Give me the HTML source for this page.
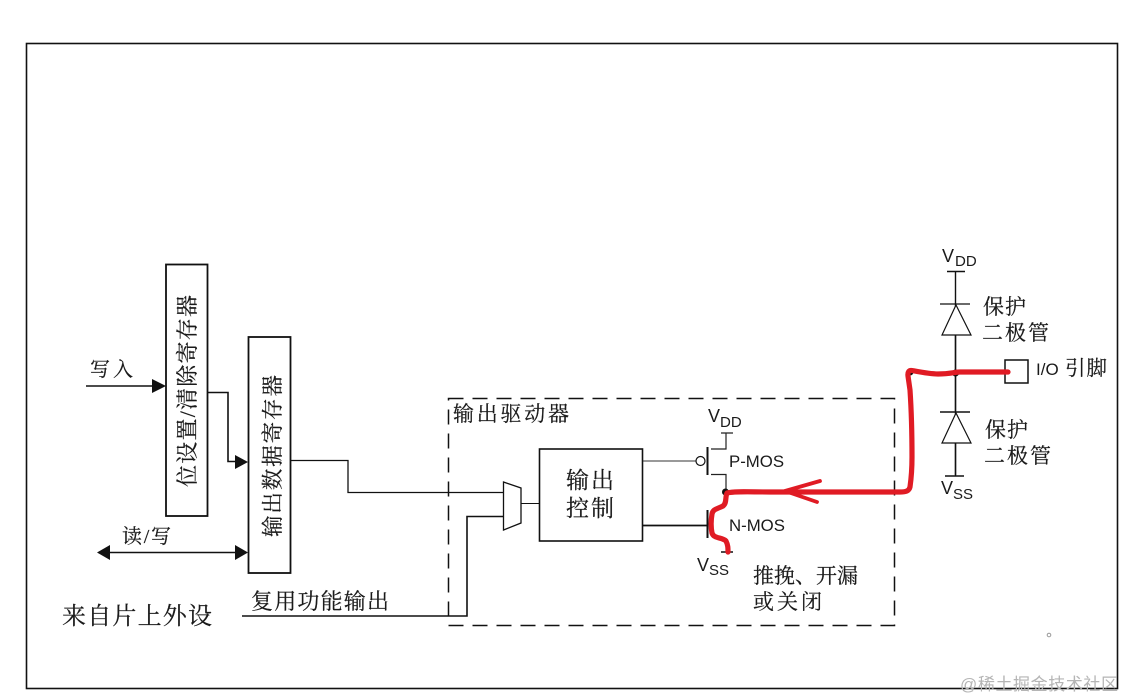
<!DOCTYPE html>
<html>
<head>
<meta charset="utf-8">
<style>
html,body{margin:0;padding:0;background:#fff;width:1126px;height:700px;overflow:hidden}
svg{display:block}
text{font-family:"Liberation Serif","Noto Serif CJK SC",serif;fill:#1a1a1a;stroke:#1a1a1a;stroke-width:.2}
.s{font-family:"Liberation Sans","Noto Sans CJK SC",sans-serif;stroke:none}
</style>
</head>
<body>
<svg width="1126" height="700" viewBox="0 0 1126 700" xmlns="http://www.w3.org/2000/svg">
<rect x="0" y="0" width="1126" height="700" fill="#fff"/>
<rect x="26.5" y="43.5" width="1091" height="645" fill="none" stroke="#111" stroke-width="1.6"/>

<!-- registers -->
<rect x="166" y="264.500" width="41.500" height="251.500" fill="none" stroke="#111" stroke-width="1.8"/>
<rect x="248.500" y="337" width="42" height="236" fill="none" stroke="#111" stroke-width="1.8"/>
<text transform="translate(195,487) rotate(-90)" font-size="22" textLength="192" lengthAdjust="spacing">位设置/清除寄存器</text>
<text transform="translate(280,537) rotate(-90)" font-size="21.500" textLength="162" lengthAdjust="spacing">输出数据寄存器</text>

<!-- left connectors -->
<path d="M86 386H155" stroke="#111" stroke-width="1.600" fill="none"/>
<polygon points="152,379 166,386 152,393" fill="#111"/>
<path d="M207 392.500H228V461.500H236" stroke="#111" stroke-width="1.600" fill="none"/>
<polygon points="235,455 248,462 235,469" fill="#111"/>
<path d="M105 552.500H240" stroke="#111" stroke-width="1.600" fill="none"/>
<polygon points="97,552.500 110,545 110,560" fill="#111"/>
<polygon points="235,545 248,552.500 235,560" fill="#111"/>
<text x="90" y="376" font-size="20" textLength="43">写入</text>
<text x="122" y="543" font-size="20" textLength="49">读/写</text>
<text x="62" y="624" font-size="24" textLength="150">来自片上外设</text>
<text x="251" y="609" font-size="22" textLength="138">复用功能输出</text>
<path d="M242 616H467V516.500H503" stroke="#111" stroke-width="1.600" fill="none"/>
<path d="M290 460.500H348V492.500H503" stroke="#111" stroke-width="1.300" fill="none"/>

<!-- driver dashed box -->
<rect x="448.500" y="398.500" width="446" height="227" fill="none" stroke="#111" stroke-width="1.500" stroke-dasharray="15 9"/>
<text x="453" y="421" font-size="21" textLength="116">输出驱动器</text>

<!-- mux + control -->
<polygon points="503.500,482 521,488 521,523 503.500,530" fill="#fff" stroke="#111" stroke-width="1.300"/>
<path d="M521 503.500H539.500" stroke="#111" stroke-width="1"/>
<rect x="539.500" y="449" width="103" height="92" fill="#fff" stroke="#111" stroke-width="1.600"/>
<text x="566" y="488" font-size="23" textLength="48">输出</text>
<text x="566" y="516" font-size="23" textLength="48">控制</text>
<path d="M643 461H696" stroke="#333" stroke-width="1"/>
<path d="M643 525.500H707" stroke="#111" stroke-width="1.700"/>

<!-- P-MOS -->
<circle cx="700.500" cy="461" r="4.500" fill="#fff" stroke="#111" stroke-width="1.200"/>
<path d="M707.500 447V475" stroke="#111" stroke-width="2"/>
<path d="M711 449H726V433M721 433H733M711 474.500H726V491" stroke="#222" stroke-width="1.200" fill="none"/>
<text class="s" x="708" y="422" font-size="18">V</text>
<text class="s" x="720" y="427" font-size="15">DD</text>
<text class="s" x="729" y="467" font-size="16.800">P-MOS</text>

<!-- N-MOS -->
<path d="M707.500 510V538" stroke="#111" stroke-width="2"/>
<path d="M721 552H733" stroke="#111" stroke-width="1.500"/>
<text class="s" x="697" y="571" font-size="18">V</text>
<text class="s" x="709" y="575" font-size="15">SS</text>
<text class="s" x="729" y="531" font-size="16.800">N-MOS</text>
<text x="753" y="583" font-size="21" textLength="105">推挽、开漏</text>
<text x="753" y="609" font-size="21" textLength="69">或关闭</text>

<!-- right column -->
<path d="M955.500 272V476" stroke="#111" stroke-width="1.400"/>
<path d="M947 271.500H965" stroke="#111" stroke-width="1.400"/>
<path d="M940 304H970" stroke="#111" stroke-width="1.200"/>
<polygon points="956,305 942,335 971,335" fill="#fff" stroke="#111" stroke-width="1.200"/>
<path d="M940 412H970" stroke="#111" stroke-width="1.500"/>
<polygon points="956,413 942,443 971,443" fill="#fff" stroke="#111" stroke-width="1.200"/>
<path d="M945 476H964" stroke="#111" stroke-width="1.400"/>
<path d="M955.500 335V411M955.500 443V475" stroke="#111" stroke-width="1.400"/>
<text class="s" x="942" y="262" font-size="18">V</text>
<text class="s" x="955" y="266" font-size="15">DD</text>
<text class="s" x="941" y="494" font-size="18">V</text>
<text class="s" x="953" y="499" font-size="15">SS</text>
<text x="983" y="314" font-size="21" textLength="43">保护</text>
<text x="982" y="340" font-size="21" textLength="67">二极管</text>
<text x="985" y="437" font-size="21" textLength="43">保护</text>
<text x="984" y="463" font-size="21" textLength="67">二极管</text>
<rect x="1005" y="360" width="23" height="23" fill="#fff" stroke="#111" stroke-width="1.500"/>
<text class="s" x="1036" y="375" font-size="17">I/O</text>
<text x="1065" y="375" font-size="20.500" textLength="42">引脚</text>

<!-- red path -->
<circle cx="910" cy="372" r="3.500" fill="#111"/>
<circle cx="955.500" cy="373" r="3.500" fill="#111"/>
<circle cx="725.500" cy="492" r="3.500" fill="#111"/>
<path d="M1008 372H960C955 372 950 374 938 374C930 374 920 372 912 370.500C909 370 907.500 372 908 376L910 390C912 420 912 440 912 457C912 470 911 480 910 487C909 491 906 492 900 492H880C850 492 800 492 770 492C750 492 735 491 727 493C725 497 727 503 723 506C717 509 713 509 712 514C711 520 711 528 712 533C714 539 722 537 726 541C728 545 728 548 728 552" fill="none" stroke="#e01b24" stroke-width="5.200" stroke-linecap="round" stroke-linejoin="round"/>
<path d="M820 481L785 491L817 502" fill="none" stroke="#e01b24" stroke-width="3.800" stroke-linecap="round" stroke-linejoin="round"/>

<!-- dot + watermark -->
<circle cx="1049" cy="635" r="1.800" fill="#fff" stroke="#999" stroke-width="1"/>
<text class="s" x="960" y="690" font-size="17" textLength="158" style="fill:#b5b5b5">@稀土掘金技术社区</text>
</svg>
</body>
</html>
